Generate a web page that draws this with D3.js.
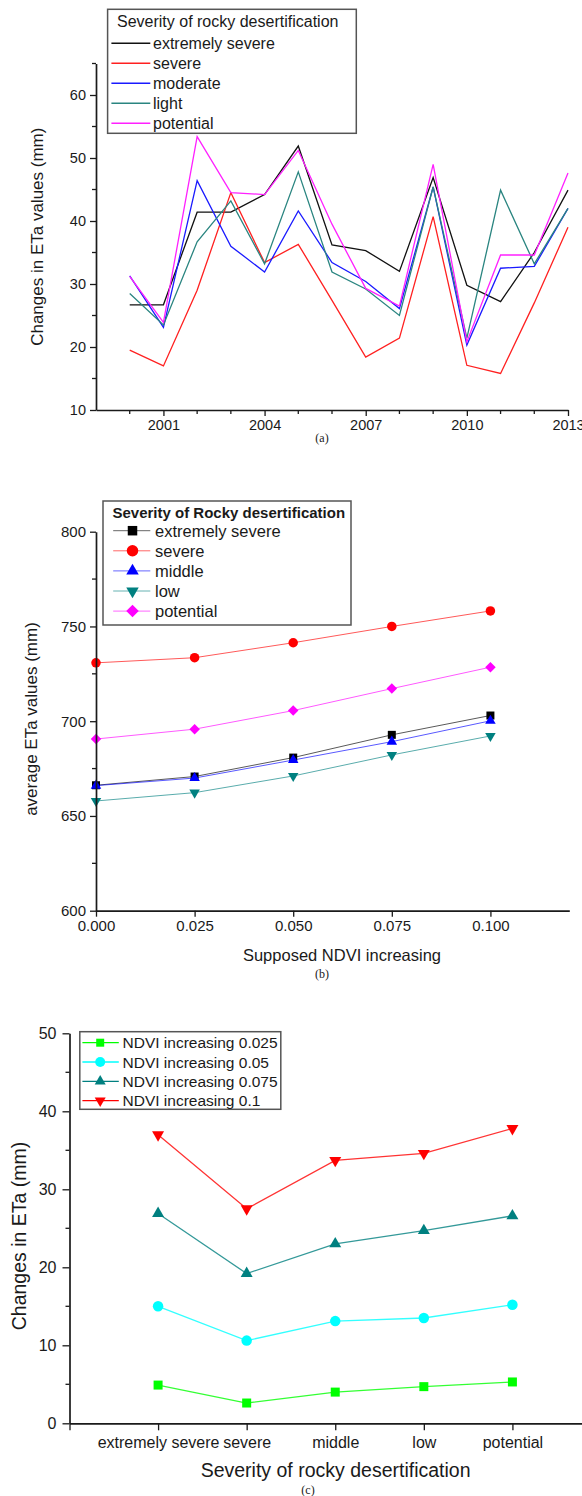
<!DOCTYPE html>
<html>
<head>
<meta charset="utf-8">
<script src="https://cdn.jsdelivr.net/npm/d3@7"></script>
<style>
  html, body { margin: 0; padding: 0; background: #fff; }
  svg { display: block; }
  text { font-family: "Liberation Sans", Arial, sans-serif; fill: #1a1a1a; }
  .caption { font-family: "Liberation Serif", "DejaVu Serif", serif; }
</style>
</head>
<body>
<svg id="fig" width="582" height="1496"></svg>
<script>
// ---------- (a) yearly changes in ETa ----------
const years = [2000, 2001, 2002, 2003, 2004, 2005, 2006, 2007, 2008, 2009, 2010, 2011, 2012, 2013];
const yearTicks = [2001, 2004, 2007, 2010, 2013];
const severityA = ["extremely severe", "severe", "moderate", "light", "potential"];
const changeExtremelySevere = [26.7, 26.7, 41.4, 41.4, 44.2, 51.9, 36.2, 35.3, 32.0, 46.9, 29.8, 27.2, 35.0, 44.9];
const changeSevere          = [19.5, 17.0, 29.0, 44.5, 33.4, 36.3, 27.4, 18.4, 21.4, 40.7, 17.1, 15.8, 27.0, 39.0];
const changeModerate        = [31.3, 23.1, 46.4, 36.0, 31.9, 41.6, 33.4, 30.4, 26.1, 45.4, 20.3, 32.5, 32.8, 42.0];
const changeLight           = [28.5, 23.5, 36.7, 43.2, 33.2, 47.8, 31.9, 29.2, 25.0, 45.4, 21.4, 44.9, 33.2, 42.0];
const changePotential       = [31.2, 23.9, 53.4, 44.5, 44.2, 51.2, 39.5, 29.3, 26.5, 49.0, 20.8, 34.6, 34.6, 47.6];
const colorsA = ["#111111", "#ff2020", "#1a1aff", "#2a8580", "#ff20ff"];

// ---------- (b) average ETa under supposed NDVI increase ----------
const ndviSteps = [0, 0.025, 0.05, 0.075, 0.1];
const ndviTickLabels = ["0.000", "0.025", "0.050", "0.075", "0.100"];
const severityB = ["extremely severe", "severe", "middle", "low", "potential"];
const avgExtremelySevere = [666.2, 670.8, 680.8, 692.8, 703.0];
const avgSevere          = [730.8, 733.5, 741.4, 750.0, 758.2];
const avgMiddle          = [666.0, 670.0, 679.5, 689.2, 700.2];
const avgLow             = [657.9, 662.3, 671.1, 682.2, 692.2];
const avgPotential       = [690.6, 695.8, 705.6, 717.2, 728.5];
const colorsB = ["#000000", "#ff0000", "#0000ff", "#008080", "#ff00ff"];
const markersB = ["square", "circle", "up", "down", "diamond"];

// ---------- (c) change in ETa by severity class ----------
const severityC = ["extremely severe", "severe", "middle", "low", "potential"];
const ndviLabels = ["NDVI increasing 0.025", "NDVI increasing 0.05", "NDVI increasing 0.075", "NDVI increasing 0.1"];
const inc025 = [4.9, 2.6, 4.0, 4.7, 5.3];
const inc050 = [15.0, 10.6, 13.1, 13.5, 15.2];
const inc075 = [26.9, 19.2, 23.0, 24.7, 26.6];
const inc100 = [37.0, 27.5, 33.7, 34.6, 37.8];
const colorsC = ["#00ff00", "#00ffff", "#008080", "#ff0000"];
const markersC = ["square", "circle", "up", "down"];

const svg = d3.select("#fig");
const AXIS_W = 1.7;

function markerPath(type, size) {
  switch (type) {
    case "square":  return d3.symbol(d3.symbolSquare, size * size)();
    case "circle":  return d3.symbol(d3.symbolCircle, Math.PI * size * size / 4)();
    case "up":
    case "down":    return d3.symbol(d3.symbolTriangle, 0.433 * size * size)();
    case "diamond": return d3.symbol(d3.symbolSquare, size * size / 2)();
  }
}
function markerRotate(type) {
  return type === "down" ? 180 : type === "diamond" ? 45 : 0;
}
function drawMarker(g, type, x, y, size, color) {
  g.append("path")
    .attr("d", markerPath(type, size))
    .attr("transform", `translate(${x},${y}) rotate(${markerRotate(type)})`)
    .attr("fill", color);
}

function styleAxis(g, fontSize) {
  g.select(".domain").attr("stroke", "#1a1a1a").attr("stroke-width", AXIS_W);
  g.selectAll(".tick line").attr("stroke", "#1a1a1a").attr("stroke-width", 1.3);
  g.selectAll(".tick text").attr("font-size", fontSize).attr("fill", "#1a1a1a")
    .attr("font-family", "Liberation Sans, Arial, sans-serif");
}

function minorTicks(g, scale, values, orient, size) {
  values.forEach(v => {
    const p = scale(v);
    if (orient === "left") {
      g.append("line").attr("x1", 0).attr("x2", -size).attr("y1", p).attr("y2", p)
        .attr("stroke", "#1a1a1a").attr("stroke-width", 1.3);
    } else {
      g.append("line").attr("y1", 0).attr("y2", size).attr("x1", p).attr("x2", p)
        .attr("stroke", "#1a1a1a").attr("stroke-width", 1.3);
    }
  });
}

// ================= Panel (a) =================
{
  const x = d3.scaleLinear().domain([1999, 2013]).range([96, 568]);
  const y = d3.scaleLinear().domain([10, 65]).range([410, 63.5]);
  const series = [changeExtremelySevere, changeSevere, changeModerate, changeLight, changePotential];

  const line = d3.line().x((d, i) => x(years[i])).y(d => y(d));
  series.forEach((s, k) => {
    svg.append("path").datum(s).attr("d", line)
      .attr("fill", "none").attr("stroke", colorsA[k]).attr("stroke-width", 1.3)
      .attr("stroke-linejoin", "miter");
  });

  const gy = svg.append("g").attr("transform", `translate(${x.range()[0]},0)`)
    .call(d3.axisLeft(y).tickValues([10, 20, 30, 40, 50, 60]).tickSize(6).tickSizeOuter(0).tickPadding(4));
  styleAxis(gy, 14.5);
  minorTicks(gy, y, [15, 25, 35, 45, 55, 65], "left", 4);

  const gx = svg.append("g").attr("transform", `translate(0,${y.range()[0]})`)
    .call(d3.axisBottom(x).tickValues(yearTicks).tickFormat(d3.format("d")).tickSize(6).tickSizeOuter(0).tickPadding(4));
  styleAxis(gx, 14.5);
  minorTicks(gx, x, years.filter(v => !yearTicks.includes(v)), "bottom", 4);

  svg.append("text").attr("transform", `translate(37,236.7) rotate(-90)`)
    .attr("text-anchor", "middle").attr("dominant-baseline", "central")
    .attr("font-size", 17).text("Changes in ETa values (mm)");

  // legend
  const lg = svg.append("g");
  lg.append("rect").attr("x", 107.6).attr("y", 9.3).attr("width", 248.7).attr("height", 124)
    .attr("fill", "#fff").attr("stroke", "#555").attr("stroke-width", 1.5);
  lg.append("text").attr("x", 117).attr("y", 21).attr("dominant-baseline", "central")
    .attr("font-size", 16).text("Severity of rocky desertification");
  severityA.forEach((name, k) => {
    const yy = 43.3 + k * 20;
    lg.append("line").attr("x1", 111.4).attr("x2", 150.3).attr("y1", yy).attr("y2", yy)
      .attr("stroke", colorsA[k]).attr("stroke-width", 1.5);
    lg.append("text").attr("x", 153).attr("y", yy).attr("dominant-baseline", "central")
      .attr("font-size", 16).text(name);
  });

  svg.append("text").attr("class", "caption").attr("x", 322).attr("y", 442)
    .attr("text-anchor", "middle").attr("font-size", 12).text("(a)");
}

// ================= Panel (b) =================
{
  const x = d3.scaleLinear().domain([0, 0.12]).range([96, 569.3]);
  const y = d3.scaleLinear().domain([600, 800]).range([910.7, 531.7]);
  const series = [avgExtremelySevere, avgSevere, avgMiddle, avgLow, avgPotential];

  const line = d3.line().x((d, i) => x(ndviSteps[i])).y(d => y(d));
  series.forEach((s, k) => {
    svg.append("path").datum(s).attr("d", line)
      .attr("fill", "none").attr("stroke", colorsB[k]).attr("stroke-width", 1)
      .attr("stroke-opacity", 0.65);
  });
  series.forEach((s, k) => {
    const g = svg.append("g");
    s.forEach((v, i) => drawMarker(g, markersB[k], x(ndviSteps[i]), y(v), markersB[k] === "square" ? 8 : markersB[k] === "circle" ? 9.5 : 10.5, colorsB[k]));
  });

  const gy = svg.append("g").attr("transform", `translate(${x.range()[0]},0)`)
    .call(d3.axisLeft(y).tickValues([600, 650, 700, 750, 800]).tickSize(6).tickSizeOuter(0).tickPadding(4));
  styleAxis(gy, 15);
  minorTicks(gy, y, [625, 675, 725, 775], "left", 4);

  const gx = svg.append("g").attr("transform", `translate(0,${y.range()[0]})`)
    .call(d3.axisBottom(x).tickValues(ndviSteps).tickFormat((d, i) => ndviTickLabels[i]).tickSize(6).tickSizeOuter(0).tickPadding(4));
  styleAxis(gx, 15);

  svg.append("text").attr("transform", `translate(31.6,719) rotate(-90)`)
    .attr("text-anchor", "middle").attr("dominant-baseline", "central")
    .attr("font-size", 17).text("average ETa values (mm)");
  svg.append("text").attr("x", 342).attr("y", 955)
    .attr("text-anchor", "middle").attr("dominant-baseline", "central")
    .attr("font-size", 16.5).text("Supposed NDVI increasing");

  // legend
  const lg = svg.append("g");
  lg.append("rect").attr("x", 103).attr("y", 501).attr("width", 248).attr("height", 124)
    .attr("fill", "#fff").attr("stroke", "#555").attr("stroke-width", 1.5);
  lg.append("text").attr("x", 112.5).attr("y", 512.5).attr("dominant-baseline", "central")
    .attr("font-size", 15).attr("font-weight", "bold").text("Severity of Rocky desertification");
  severityB.forEach((name, k) => {
    const yy = 530.7 + k * 20.1;
    lg.append("line").attr("x1", 113.2).attr("x2", 150.3).attr("y1", yy).attr("y2", yy)
      .attr("stroke", colorsB[k]).attr("stroke-width", 1).attr("stroke-opacity", 0.6);
    drawMarker(lg, markersB[k], 132.5, yy, markersB[k] === "square" ? 9.5 : markersB[k] === "circle" ? 11.5 : 12.5, colorsB[k]);
    lg.append("text").attr("x", 155).attr("y", yy).attr("dominant-baseline", "central")
      .attr("font-size", 16.5).text(name);
  });

  svg.append("text").attr("class", "caption").attr("x", 322).attr("y", 978)
    .attr("text-anchor", "middle").attr("font-size", 12).text("(b)");
}

// ================= Panel (c) =================
{
  const x = d3.scaleLinear().domain([0, 6]).range([69.5, 601]);
  const y = d3.scaleLinear().domain([0, 50]).range([1423.3, 1033.3]);
  const series = [inc025, inc050, inc075, inc100];
  const pos = severityC.map((d, i) => i + 1);

  const line = d3.line().x((d, i) => x(pos[i])).y(d => y(d));
  series.forEach((s, k) => {
    svg.append("path").datum(s).attr("d", line)
      .attr("fill", "none").attr("stroke", colorsC[k]).attr("stroke-width", 1.3)
      .attr("stroke-opacity", 0.8);
  });
  series.forEach((s, k) => {
    const g = svg.append("g");
    s.forEach((v, i) => drawMarker(g, markersC[k], x(pos[i]), y(v), markersC[k] === "square" ? 9 : markersC[k] === "circle" ? 10.5 : 12, colorsC[k]));
  });

  const gy = svg.append("g").attr("transform", `translate(${x(0)},0)`)
    .call(d3.axisLeft(y).tickValues([0, 10, 20, 30, 40, 50]).tickSize(7).tickSizeOuter(0).tickPadding(6));
  styleAxis(gy, 16);
  minorTicks(gy, y, [5, 15, 25, 35, 45], "left", 4);

  const gx = svg.append("g").attr("transform", `translate(0,${y(0)})`)
    .call(d3.axisBottom(x).tickValues([0, ...pos]).tickFormat(d => d === 0 ? "" : severityC[d - 1]).tickSize(7).tickSizeOuter(0).tickPadding(6));
  styleAxis(gx, 16);

  svg.append("text").attr("transform", `translate(18.6,1236) rotate(-90)`)
    .attr("text-anchor", "middle").attr("dominant-baseline", "central")
    .attr("font-size", 19.5).text("Changes in ETa (mm)");
  svg.append("text").attr("x", 335.6).attr("y", 1470)
    .attr("text-anchor", "middle").attr("dominant-baseline", "central")
    .attr("font-size", 19.5).text("Severity of rocky desertification");

  // legend
  const lg = svg.append("g");
  lg.append("rect").attr("x", 79.8).attr("y", 1031.7).attr("width", 201).attr("height", 77.6)
    .attr("fill", "#fff").attr("stroke", "#555").attr("stroke-width", 1.5);
  ndviLabels.forEach((name, k) => {
    const yy = 1042.7 + k * 19.3;
    lg.append("line").attr("x1", 82.4).attr("x2", 118.8).attr("y1", yy).attr("y2", yy)
      .attr("stroke", colorsC[k]).attr("stroke-width", 1.3);
    drawMarker(lg, markersC[k], 100.2, yy, markersC[k] === "square" ? 8 : markersC[k] === "circle" ? 10 : 11, colorsC[k]);
    lg.append("text").attr("x", 122.5).attr("y", yy).attr("dominant-baseline", "central")
      .attr("font-size", 15.5).text(name);
  });

  svg.append("text").attr("class", "caption").attr("x", 308).attr("y", 1494)
    .attr("text-anchor", "middle").attr("font-size", 12).text("(c)");
}
</script>
</body>
</html>
